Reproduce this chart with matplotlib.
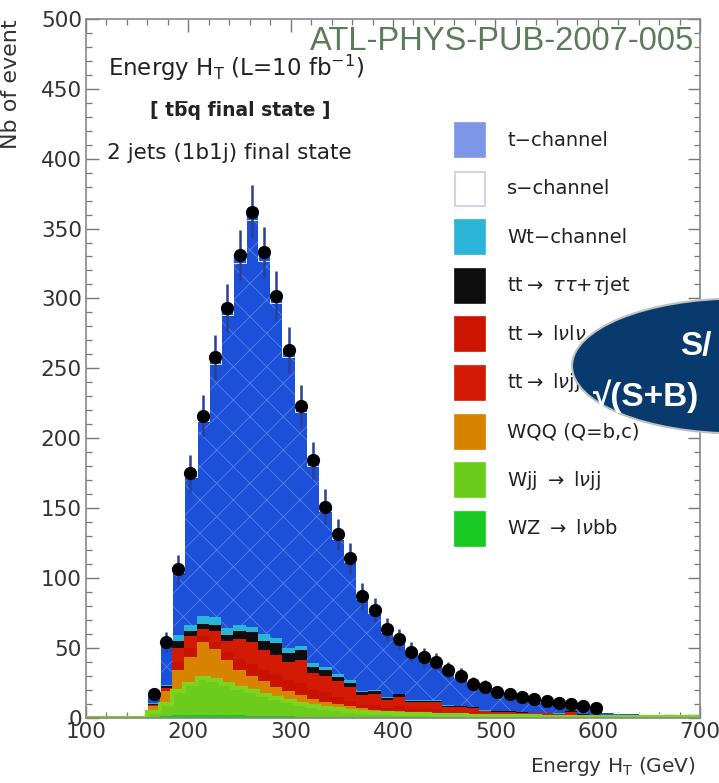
import numpy as np
import matplotlib
matplotlib.use("Agg")
import matplotlib.pyplot as plt
from matplotlib.patches import Rectangle, Ellipse

# ---------------- data (50 bins of 12 GeV, 100 -> 700 GeV) ----------------
ht_edges = np.linspace(100, 700, 51)

z5 = [0, 0, 0, 0, 0]
wz_counts = z5 + [0.5, 1, 1.5, 2, 2, 2, 1.5, 1.5, 1, 1, 1, 0.8, 0.7, 0.5, 0.5, 0.4, 0.3, 0.3, 0.3, 0.2,
                  0.2, 0.2, 0.2, 0.1, 0.1, 0.1, 0.1, 0.1, 0.1, 0.1, 0, 0, 0, 0, 0, 0, 0, 0, 0, 0, 0, 0, 0, 0, 0]
wjj_counts = z5 + [3.5, 9, 17.5, 22, 26, 25, 22.5, 19.5, 18, 15, 13, 11.2, 9.3, 7.5, 6.5, 5.6, 4.7, 3.7, 3.2, 2.8,
                   2.6, 2.3, 2, 1.9, 1.7, 1.5, 1.3, 1.1, 1, 0.9, 0.9, 0.8, 0.7, 0.6, 0.5, 0.5, 0.4, 0.3, 0.3, 0.2,
                   0.2, 0.2, 0.1, 0.1, 0.1]
wqq_counts = z5 + [4, 9, 15, 19, 26, 22, 17, 13, 11, 10, 8, 7, 6, 5, 4, 3.5, 3, 2.5, 2, 2,
                   1.7, 1.5, 1.4, 1.2, 1, 0.9, 0.8, 0.8, 0.7, 0.6, 0.5, 0.4, 0.4, 0.4, 0.4, 0.3, 0.3, 0.2, 0.1, 0.1,
                   0.1, 0, 0.1, 0, 0]
ttlvlv_counts = z5 + [0.5, 1, 6, 7, 4, 5, 6, 8, 8, 8, 9, 8, 9, 7, 7, 5.5, 4, 2.5, 3.5, 2,
                      3.5, 2, 2.4, 2.8, 1.2, 1.5, 1.8, 1, 0.7, 0.9, 0.6, 0.6, 0.5, 0.5, 1.1, 0.4, 0.3, 0.1, 0.1, 0.1,
                      0, 0, 0, 0, 0]
ttlvjj_counts = z5 + [0.5, 1, 10, 8, 5, 8, 8, 14, 16, 14, 14, 13, 16, 12, 12, 11, 10, 7, 8, 5.5,
                      7, 5, 5, 5, 3.5, 3.5, 3, 1.5, 1.5, 1.5, 1.5, 1.2, 1.4, 1, 2, 0.8, 0.5, 0.2, 0.1, 0.1,
                      0.1, 0.1, 0.1, 0.1, 0.1]
tttau_counts = z5 + [1, 1.5, 5, 4, 4, 4, 4, 6, 7, 7, 8, 6, 7, 4, 4, 3, 3, 2, 2, 1.5,
                     1.5, 1, 1, 1, 0.7, 0.5, 0.5, 0.5, 0.5, 0.3, 0.3, 0.3, 0.2, 0.2, 0.3, 0.2, 0.2, 0.1, 0.1, 0.1,
                     0, 0, 0, 0, 0]
wt_counts = z5 + [0.5, 1, 4, 4, 6, 6, 5, 4, 4, 5, 4, 4, 3, 3, 2, 2, 1.5, 1, 1, 1,
                  0.5, 0.5, 0.5, 0.5, 0.4, 0.3, 0.3, 0.3, 0.3, 0.2, 0.2, 0.2, 0.2, 0.2, 0.2, 0.2, 0.2, 0.1, 0.1, 0,
                  0.1, 0.1, 0, 0, 0]
tchan_counts = z5 + [6.2, 29.5, 45, 106, 139, 181, 224, 259, 291, 267, 240, 208, 168, 141, 112, 97, 85, 66, 55, 46.5,
                     37.5, 33.5, 29.5, 26.5, 24.6, 20.9, 15.6, 16.1, 12.7, 12, 10.1, 9.5, 8, 7.3, 5.2, 5.4, 4.9, 2.8, 2.6, 2.5,
                     2.2, 1.9, 1.8, 1.4, 1.9]
schan_counts = z5 + [0.3, 1, 2, 3, 4, 5, 5, 6, 6, 6, 5, 5, 4, 4, 3, 3, 2.5, 2, 2, 1.5,
                     1.5, 1, 1, 1, 0.8, 0.8, 0.6, 0.6, 0.5, 0.5, 0.4, 0.4, 0.3, 0.3, 0.3, 0.2, 0.2, 0.1, 0.1, 0.1,
                     0.1, 0.1, 0.1, 0.1, 0.1]
nan = np.nan
data_counts = [nan] * 5 + [17, 54, 106, 175, 216, 258, 293, 331, 362, 333, 302, 263, 223, 184, 151, 131, 114, 87, 77, 63,
                           56, 47, 43, 40, 34, 30, 24, 22, 18, 17, 14.5, 13.4, 11.7, 10.5, 10, 8, 7,
                           nan, nan, nan, nan, nan, nan, nan, nan]

legend_labels = ["t\u2212channel", "s\u2212channel", "Wt\u2212channel",
                 r"tt$\rightarrow$ $\tau\tau$+$\tau$jet", r"tt$\rightarrow$ l$\nu$l$\nu$",
                 r"tt$\rightarrow$ l$\nu$jj", "WQQ (Q=b,c)", r"Wjj $\rightarrow$ l$\nu$jj",
                 r"WZ $\rightarrow$ l$\nu$bb"]

# ---------------- style ----------------
plt.rcParams["font.family"] = ["DejaVu Sans"]
plt.rcParams["mathtext.fontset"] = "dejavusans"
plt.rcParams["hatch.linewidth"] = 0.6

W, H = 719, 783
fig = plt.figure(figsize=(W / 100, H / 100), dpi=100)
fx = lambda px: px / W
fy = lambda py: 1 - py / H

ax = fig.add_axes([fx(86), fy(717.5), fx(700) - fx(86), fy(19) - fy(717.5)])

stack = [
    (wz_counts, "#18c922", None, None),
    (wjj_counts, "#6bcc1b", None, None),
    (wqq_counts, "#d88300", None, None),
    (ttlvlv_counts, "#c91300", None, None),
    (ttlvjj_counts, "#d21a04", None, None),
    (tttau_counts, "#0e0e0e", None, None),
    (wt_counts, "#2ab4d8", None, None),
    (tchan_counts, "#1c50d8", "x", "#557ff0"),
    (schan_counts, "#2656dc", None, None),
]
base = np.zeros(len(ht_edges) - 1)
cum_tops = []
for vals, col, hatch, hcol in stack:
    top = base + np.asarray(vals, dtype=float)
    ax.stairs(top, ht_edges, baseline=base, fill=True, color=col, lw=0, zorder=2)
    if hatch:
        ax.stairs(top, ht_edges, baseline=base, fill=True, facecolor="none",
                  edgecolor=hcol, hatch=hatch, lw=0, zorder=2.1)
    cum_tops.append(top)
    base = top

# white outline around the s-channel layer on top
ax.stairs(cum_tops[-1], ht_edges, baseline=cum_tops[-2], fill=False,
          edgecolor="white", lw=0.6, zorder=2.2)
# green outline of the W+jets top (gives the green line along zero)
ax.stairs(cum_tops[1], ht_edges, baseline=0, fill=False, edgecolor="#7fd21e",
          lw=3, zorder=2.3)

centers = 0.5 * (ht_edges[:-1] + ht_edges[1:])
data = np.asarray(data_counts, dtype=float)
ax.errorbar(centers, data, yerr=np.sqrt(data), fmt="o", color="black", ms=8.5,
            ecolor="#2b3f96", elinewidth=1.8, capsize=0, zorder=5)

ax.set_xlim(100, 700)
ax.set_ylim(0, 500)
ax.set_xticks(np.arange(100, 701, 100))
ax.set_xticks(np.arange(100, 701, 20), minor=True)
ax.set_yticks(np.arange(0, 501, 50))
ax.set_yticks(np.arange(0, 501, 10), minor=True)
ax.tick_params(which="both", direction="in", top=True, right=True, colors="#777777",
               labelcolor="#333333", labelsize=15.5)
ax.tick_params(which="major", length=9, width=1)
ax.tick_params(which="minor", length=4.5, width=0.9)
ax.tick_params(axis="x", pad=3)
ax.tick_params(axis="y", pad=3)
for s in ax.spines.values():
    s.set_color("#888888")
    s.set_linewidth(1.2)

txtc = "#222222"
fig.text(fx(11), fy(19), "Nb of event", rotation=90, ha="center", va="top",
         fontsize=16, color="#333333")
fig.text(fx(696), fy(766), r"Energy H$_\mathrm{T}$ (GeV)", ha="right", va="center",
         fontsize=14.5, color="#333333")

fig.text(fx(108), fy(68), r"Energy H$_\mathrm{T}$ (L=10 fb$^{-1}$)", ha="left", va="center",
         fontsize=16.5, color=txtc)
fig.text(fx(240), fy(111), "[ tb\u0305q final state ]", ha="center", va="center",
         fontsize=13.5, color=txtc, fontweight="bold")
fig.text(fx(107), fy(153), "2 jets (1b1j) final state", ha="left", va="center",
         fontsize=15.5, color=txtc)

fig.text(fx(310), fy(50), "ATL-PHYS-PUB-2007-005", ha="left", va="baseline",
         fontsize=23.5, color="#5b7c58", family=["Liberation Sans", "DejaVu Sans"])

# legend
leg_cols = ["#7f96e8", "white", "#2ab4d8", "#0e0e0e", "#cc1500", "#d21a04",
            "#d88300", "#6bcc1b", "#18c922"]
for k, (lab, col) in enumerate(zip(legend_labels, leg_cols)):
    cy = 140 + 48.6 * k
    r = Rectangle((fx(455), fy(cy + 17)), fx(485) - fx(455), fy(cy - 17) - fy(cy + 17),
                  transform=fig.transFigure, facecolor=col,
                  edgecolor="#c9cbe8" if col == "white" else col, lw=1.2, zorder=3)
    fig.add_artist(r)
    fig.text(fx(507), fy(cy), lab, ha="left", va="center", fontsize=14, color=txtc, zorder=3)

# S/sqrt(S+B) bubble
ell = Ellipse((fx(738), fy(366)), fx(738 - 572) * 2, (135 / H), transform=fig.transFigure,
              facecolor="#083a6d", edgecolor="#c0c0c0", lw=1.5, zorder=10)
fig.add_artist(ell)
fig.text(fx(680), fy(346), "S/", ha="left", va="center", fontsize=24, fontweight="bold",
         color="white", family=["Liberation Sans", "DejaVu Sans"], zorder=11)
fig.text(fx(593), fy(396), "\u221a(S+B)", ha="left", va="center", fontsize=24, fontweight="bold",
         color="white", family=["Liberation Sans", "DejaVu Sans"], zorder=11)

fig.savefig("out.png", dpi=100)
